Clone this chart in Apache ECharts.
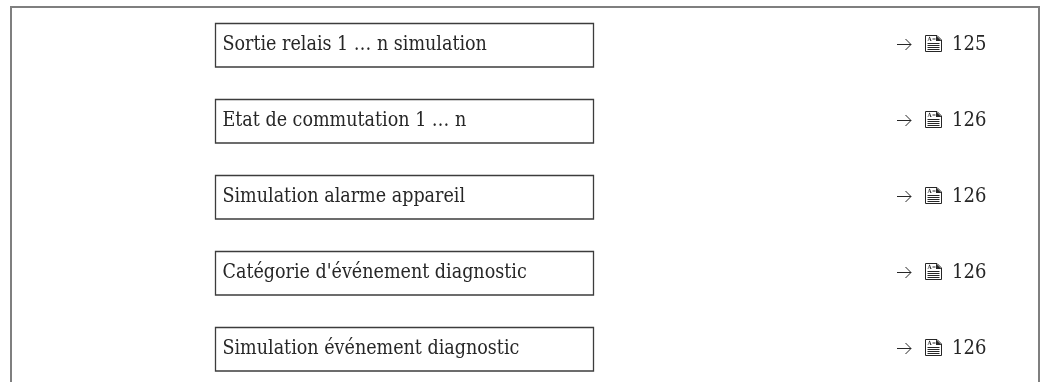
<!DOCTYPE html>
<html><head><meta charset="utf-8">
<style>html,body{margin:0;padding:0;background:#fff;overflow:hidden}#c{width:1043px;height:382px}</style>
<script src="https://cdn.jsdelivr.net/npm/echarts@6/dist/echarts.min.js"></script>
</head><body><div id="c"></div>
<script>
const labels = ["Sortie relais 1 … n simulation","Etat de commutation 1 … n","Simulation alarme appareil","Catégorie d'événement diagnostic","Simulation événement diagnostic"];
const refs = [125,126,126,126,126];
const FONT = '"DejaVu Serif Condensed"';
const INK = '#262626';
const chart = echarts.init(document.getElementById('c'),null,{renderer:'canvas'});
function renderItem(params, api){
  const i = api.value(0);
  const [x0, cy] = api.coord([215.5, i]);
  const [x1] = api.coord([593.5, i]);
  const [tx] = api.coord([222.5, i]);
  const [ax] = api.coord([897, i]);
  const [ix] = api.coord([925.5, i]);
  const [nx] = api.coord([952, i]);
  const h = 43.5;
  const top = Math.round(cy - 21.6) + 0.5;
  const iy = top + 12;
  const ay = top + 21;
  const line = (a,b,c,d)=>({type:'polyline',shape:{points:[[a,b],[c,d]]},style:{stroke:INK,lineWidth:1,fill:null}});
  return {type:'group',children:[
    {type:'rect',shape:{x:x0,y:top,width:x1-x0,height:h},style:{fill:'#fff',stroke:'#3c3c3c',lineWidth:1.3}},
    {type:'text',style:{x:tx,y:top+21,text:labels[i],font:'19.5px '+FONT,fill:INK,textVerticalAlign:'middle',textAlign:'left'}},
    line(ax,ay,ax+14,ay),
    {type:'polyline',shape:{points:[[ax+8.5,ay-5.5],[ax+14,ay],[ax+8.5,ay+5.5]]},style:{stroke:INK,lineWidth:1,fill:null}},
    {type:'polygon',shape:{points:[[ix,iy],[ix+11.5,iy],[ix+16,iy+4.5],[ix+16,iy+16],[ix,iy+16]]},style:{fill:'#fff',stroke:INK,lineWidth:1}},
    {type:'polygon',shape:{points:[[ix+10.5,iy],[ix+16,iy+5.5],[ix+10.5,iy+5.5]]},style:{fill:INK}},
    {type:'text',style:{x:ix+2,y:iy+3.5,text:'A',font:'bold 6px '+FONT,fill:INK,textVerticalAlign:'middle',textAlign:'left'}},
    line(ix+7,iy+3.5,ix+10,iy+3.5),
    line(ix+2,iy+8,ix+14,iy+8),
    line(ix+2,iy+10,ix+14,iy+10),
    line(ix+2,iy+12,ix+14,iy+12),
    line(ix+2,iy+14,ix+14,iy+14),
    {type:'text',style:{x:nx,y:top+21.5,text:String(refs[i]),font:'20px '+FONT,fill:INK,textVerticalAlign:'middle',textAlign:'left'}}
  ]};
}
chart.setOption({
  animation:false,
  grid:{show:true,left:11,top:7,width:1028,height:379,outerBoundsMode:'none',borderColor:'#7f7f7f',borderWidth:2,backgroundColor:'#fff'},
  xAxis:{type:'value',min:11,max:1039,show:false},
  yAxis:{type:'category',inverse:true,data:labels,show:false},
  series:[{type:'custom',renderItem,clip:false,data:labels.map((_,i)=>[i]),encode:{y:0}}]
});
</script></body></html>
